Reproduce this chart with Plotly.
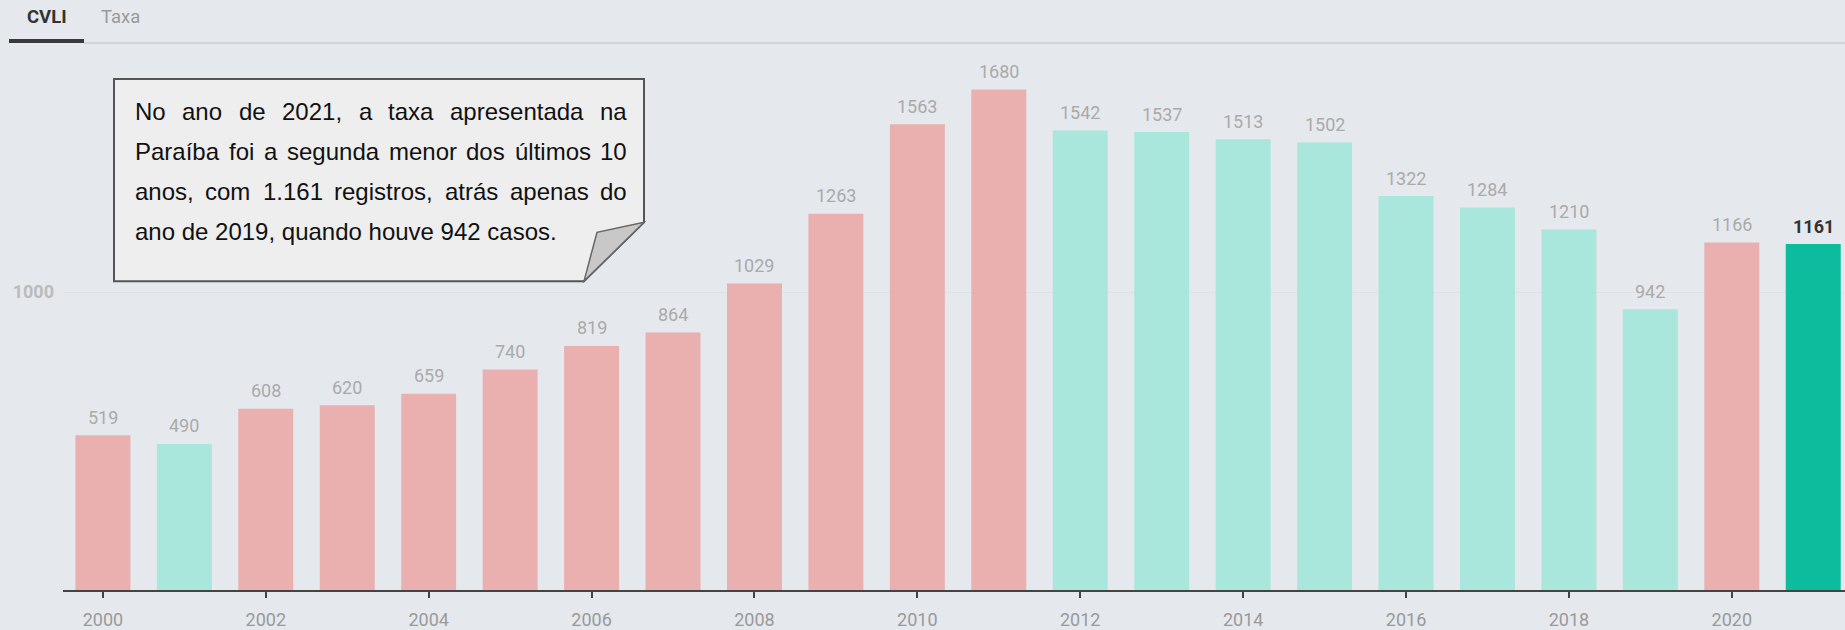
import plotly.graph_objects as go

# ---------------- data ----------------
years = list(range(2000, 2022))
cvli = [519, 490, 608, 620, 659, 740, 819, 864, 1029, 1263, 1563, 1680,
        1542, 1537, 1513, 1502, 1322, 1284, 1210, 942, 1166, 1161]
tick_years = list(range(2000, 2021, 2))
y_ticks = [1000]
tabs = ["CVLI", "Taxa"]
note_lines = [
    "No ano de 2021, a taxa apresentada na",
    "Paraíba foi a segunda menor dos últimos 10",
    "anos, com 1.161 registros, atrás apenas do",
    "ano de 2019, quando houve 942 casos.",
]

# ---------------- styles ----------------
BG = "#e5e9ee"
PINK = "#e9b0af"
TEAL = "#a9e6dc"
HILITE = "#0dbc9c"

W, H = 1845, 630
ML, MR, MT, MB = 63, 0, 45, 38
PW, PH = W - ML - MR, H - MT - MB


def px(x):
    return (x - ML) / PW


def py(y):
    return (H - MB - y) / PH


colors = []
for i, v in enumerate(cvli):
    if i == len(cvli) - 1:
        colors.append(HILITE)
    elif i == 0 or v >= cvli[i - 1]:
        colors.append(PINK)
    else:
        colors.append(TEAL)

fig = go.Figure()
fig.add_trace(go.Bar(x=years, y=cvli, marker_color=colors, width=0.675,
                     marker_line_width=0, hoverinfo="x+y"))

annotations = []
for i, (yr, v) in enumerate(zip(years, cvli)):
    last = i == len(cvli) - 1
    annotations.append(dict(
        x=yr, y=v, xref="x", yref="y", text=str(v), showarrow=False,
        yanchor="middle", yshift=18,
        font=dict(family="Roboto", size=18,
                  color="#333333" if last else "#aaaaaa",
                  weight="bold" if last else "normal")))

# tabs
annotations.append(dict(x=px(47), y=py(17), xref="paper", yref="paper",
                        text="<b>" + tabs[0] + "</b>", showarrow=False,
                        xanchor="center", yanchor="middle",
                        font=dict(family="Roboto", size=18.5, color="#333333")))
annotations.append(dict(x=px(120), y=py(17), xref="paper", yref="paper",
                        text=tabs[1], showarrow=False,
                        xanchor="center", yanchor="middle",
                        font=dict(family="Roboto", size=18.5, color="#9a9a9a")))

# justified note text (Arial metrics)
AW = {" ": 278, ",": 278, ".": 278, "N": 722, "P": 667,
      "a": 556, "b": 556, "c": 500, "d": 556, "e": 556, "f": 278, "g": 556,
      "h": 556, "i": 222, "j": 222, "k": 500, "l": 222, "m": 833, "n": 556,
      "o": 556, "p": 556, "q": 556, "r": 333, "s": 500, "t": 278, "u": 556,
      "v": 500, "w": 722, "x": 500, "y": 500, "z": 500, "í": 278, "ú": 556,
      "á": 556}
FS = 24


def wwidth(w):
    return sum(AW.get(c, 556) for c in w) / 1000 * FS


TX0, TX1 = 133, 625
line_y = [112, 152, 192, 232]
for li, line in enumerate(note_lines):
    words = line.split(" ")
    if li == len(note_lines) - 1:
        annotations.append(dict(x=px(TX0), y=py(line_y[li]), xref="paper", yref="paper",
                                text=line, showarrow=False, xanchor="left", yanchor="middle",
                                font=dict(family="Liberation Sans", size=FS, color="#111111")))
        continue
    widths = [wwidth(w) for w in words]
    gap = (TX1 - TX0 - sum(widths)) / (len(words) - 1)
    x = TX0
    for w, wd in zip(words, widths):
        annotations.append(dict(x=px(x), y=py(line_y[li]), xref="paper", yref="paper",
                                text=w, showarrow=False, xanchor="left", yanchor="middle",
                                font=dict(family="Liberation Sans", size=FS, color="#111111")))
        x += wd + gap


def path(pts):
    return "M " + " L ".join(f"{px(a):.5f},{py(b):.5f}" for a, b in pts) + " Z"


shapes = [
    # tab rules
    dict(type="line", xref="paper", yref="paper", x0=px(84), x1=px(W), y0=py(43), y1=py(43),
         line=dict(color="#c8ccd1", width=1.5)),
    dict(type="line", xref="paper", yref="paper", x0=px(9), x1=px(84), y0=py(41), y1=py(41),
         line=dict(color="#3a3a3a", width=4)),
    # callout box with folded corner
    dict(type="path", xref="paper", yref="paper",
         path=path([(114, 79), (644, 79), (644, 223), (584, 282), (114, 282)]),
         fillcolor="#eeeeee", line=dict(color="#555555", width=2)),
    dict(type="path", xref="paper", yref="paper",
         path=path([(584, 282), (597, 233), (644, 223)]),
         fillcolor="#c8c8c8", line=dict(color="#666666", width=1.5)),
]

fig.update_layout(
    width=W, height=H,
    margin=dict(l=ML, r=MR, t=MT, b=MB, pad=0),
    paper_bgcolor=BG, plot_bgcolor=BG,
    showlegend=False, bargap=0.3,
    annotations=annotations, shapes=shapes,
    xaxis=dict(range=[1999.51, 2021.39], tickvals=tick_years, ticks="outside",
               ticklen=6, tickwidth=2, tickcolor="#444444", showline=True,
               linecolor="#444444", linewidth=2, showgrid=False, zeroline=False,
               tickfont=dict(family="Roboto", size=18, color="#999999"),
               ticklabelstandoff=6),
    yaxis=dict(range=[0, 1829], tickvals=y_ticks, showgrid=True, gridcolor="#dde2e7",
               gridwidth=1, zeroline=False, showline=False,
               tickfont=dict(family="Roboto", size=18, color="#bbbbbb", weight="bold"),
               ticklabelstandoff=8),
)

fig.write_html("out.html", config={"displayModeBar": False},
               post_script="document.body.style.margin='0';document.body.style.overflow='hidden';")
